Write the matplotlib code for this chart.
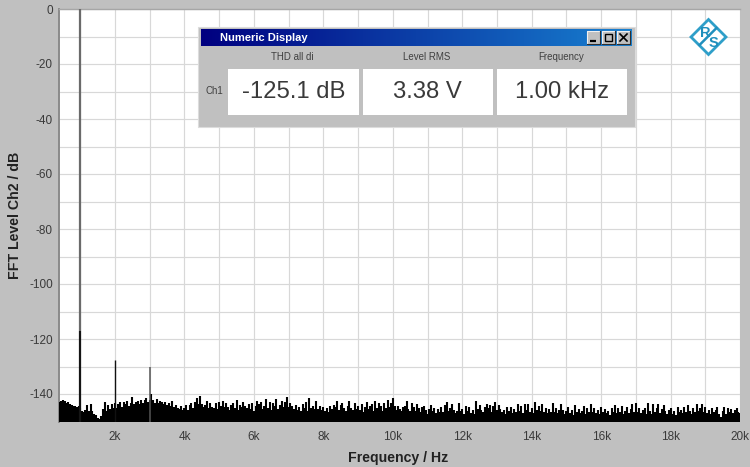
import numpy as np
import matplotlib
matplotlib.use("Agg")
import matplotlib.pyplot as plt
from matplotlib.patches import Rectangle, Polygon

plt.rcParams['font.family'] = ['Liberation Sans', 'DejaVu Sans']

# --- data -------------------------------------------------------------
x_ticks = [2000, 4000, 6000, 8000, 10000, 12000, 14000, 16000, 18000, 20000]
x_labels = ['2k', '4k', '6k', '8k', '10k', '12k', '14k', '16k', '18k', '20k']
y_ticks = [0, -20, -40, -60, -80, -100, -120, -140]
y_labels = ['0', '-20', '-40', '-60', '-80', '-100', '-120', '-140']

fundamental_hz = 990
fundamental_top = 0
fundamental_dark_top = -117
harmonic_hz = [2000, 3000]
harmonic_db = [-127.5, -130]

noise_start_hz = 400
noise_stop_hz = 20000
noise_db = [
 -143.0,-142.4,-142.0,-142.7,-143.2,-143.0,-143.7,-144.0,-144.4,-144.2,-144.8,-144.4,-145.2,-146.3,-146.6,-145.9,-144.0,-146.2,-143.8,-146.0,
 -147.2,-147.5,-148.9,-149.2,-147.9,-145.6,-143.0,-146.0,-144.0,-145.4,-143.5,-145.2,-143.3,-145.0,-143.8,-143.0,-144.7,-142.8,-143.8,-142.6,
 -144.2,-143.3,-141.0,-143.8,-143.0,-142.5,-143.8,-142.2,-143.4,-142.0,-141.4,-143.0,-142.2,-140.0,-142.0,-143.1,-141.8,-143.3,-142.6,-143.0,
 -143.7,-142.8,-144.0,-143.2,-144.3,-142.4,-144.8,-144.0,-145.2,-145.6,-144.5,-145.9,-145.0,-144.1,-145.7,-144.0,-143.2,-145.0,-142.8,-141.4,
 -143.8,-140.6,-143.5,-144.8,-144.0,-142.4,-145.1,-143.4,-144.6,-145.2,-143.2,-145.5,-143.0,-144.3,-142.6,-144.9,-143.4,-144.7,-145.8,-144.0,
 -143.3,-145.0,-142.2,-145.8,-144.0,-144.7,-143.0,-144.4,-145.0,-143.6,-145.4,-143.2,-146.0,-144.3,-142.7,-143.8,-143.0,-145.3,-144.2,-141.7,
 -145.2,-143.0,-145.8,-143.3,-144.2,-141.8,-145.4,-144.0,-142.6,-144.7,-143.0,-141.1,-144.8,-143.4,-144.5,-145.4,-144.0,-145.8,-144.9,-146.0,
 -143.8,-145.1,-143.0,-146.3,-141.4,-145.1,-144.2,-145.5,-142.7,-145.3,-144.4,-145.8,-144.8,-146.1,-145.0,-146.6,-144.3,-145.4,-144.0,-144.8,
 -142.6,-145.7,-144.1,-143.2,-145.2,-146.1,-144.5,-142.4,-145.0,-145.8,-143.3,-145.4,-144.2,-145.9,-143.6,-146.7,-144.7,-142.8,-145.5,-144.2,
 -143.7,-146.3,-142.7,-145.0,-143.2,-144.5,-146.0,-143.3,-145.1,-142.0,-144.8,-143.4,-141.6,-144.5,-145.8,-144.3,-145.4,-146.2,-144.9,-144.4,
 -142.4,-145.3,-146.0,-143.3,-144.8,-146.1,-143.7,-145.2,-146.5,-144.8,-144.4,-145.8,-147.1,-145.6,-144.0,-146.3,-145.1,-146.8,-145.4,-146.4,
 -144.9,-146.7,-144.0,-142.8,-146.2,-145.1,-143.8,-145.8,-147.0,-146.0,-143.4,-146.2,-145.3,-147.3,-144.2,-146.0,-144.9,-146.8,-145.8,-147.1,
 -142.4,-145.6,-144.1,-145.7,-146.5,-144.7,-143.8,-145.2,-144.0,-146.4,-144.5,-143.0,-145.8,-143.9,-145.3,-146.6,-145.8,-147.1,-144.9,-146.3,
 -144.6,-146.8,-145.4,-146.7,-143.5,-146.1,-144.3,-147.0,-143.8,-145.7,-143.6,-146.5,-145.2,-146.8,-143.0,-145.8,-144.4,-146.0,-143.8,-146.6,
 -145.0,-146.9,-145.4,-146.7,-143.3,-146.4,-145.0,-147.0,-145.9,-143.6,-145.7,-147.1,-146.2,-144.8,-146.8,-145.8,-147.8,-144.0,-146.5,-145.3,
 -146.8,-146.0,-144.4,-147.1,-145.2,-146.6,-143.7,-146.5,-145.1,-147.0,-145.8,-147.3,-144.6,-146.7,-145.5,-146.9,-146.0,-147.6,-145.1,-146.4,
 -144.0,-146.8,-145.2,-146.6,-144.4,-147.2,-146.0,-144.7,-146.8,-145.4,-143.8,-146.6,-143.2,-146.4,-145.1,-146.9,-145.8,-145.0,-147.2,-143.4,
 -146.1,-147.3,-143.8,-146.4,-145.2,-143.7,-146.8,-145.6,-144.1,-146.0,-147.2,-145.8,-145.1,-147.1,-146.0,-147.8,-144.9,-146.7,-145.8,-147.0,
 -144.8,-146.6,-143.9,-146.1,-147.4,-145.0,-146.5,-143.8,-146.3,-145.1,-143.7,-146.6,-144.8,-146.8,-145.9,-147.3,-145.2,-146.7,-145.8,-144.8,
 -147.1,-148.3,-146.0,-144.8,-147.4,-145.0,-146.7,-145.3,-147.0,-145.8,-145.0,-146.4,-146.8,
]

title_text = 'Numeric Display'
channel_text = 'Ch1'
meas_names = ['THD all di', 'Level RMS', 'Frequency']
meas_values = ['-125.1 dB', '3.38 V', '1.00 kHz']

# --- figure -----------------------------------------------------------
W, H = 750, 467
BG = '#c0c0c0'
TXT = '#3a3a3a'
GRID = '#d8d8d8'
fig = plt.figure(figsize=(W / 100, H / 100), dpi=100, facecolor=BG)
ax = fig.add_axes([59 / W, 1 - 421.5 / H, (740 - 59) / W, (421.5 - 9) / H], facecolor='white')
ax.set_xlim(387, 20000)
ax.set_ylim(-150, 0)

ax.set_axisbelow(True)
ax.set_xticks(x_ticks, x_labels)
ax.set_xticks(np.arange(1000, 20001, 2000), minor=True)
ax.set_yticks(y_ticks, y_labels)
ax.set_yticks(np.arange(-130, 0, 20), minor=True)
ax.grid(True, which='both', color=GRID, lw=0.85, zorder=0)
ax.tick_params(which='both', length=0)
ax.tick_params(axis='x', labelsize=8.5, labelcolor=TXT, pad=7)
ax.tick_params(axis='y', labelsize=8.5, labelcolor=TXT, pad=4.5)
for s in ax.spines.values():
    s.set_visible(False)
ax.spines['left'].set_visible(True)
ax.spines['left'].set_color('#8a8a8a')
ax.spines['left'].set_linewidth(1.4)
ax.spines['top'].set_visible(True)
ax.spines['top'].set_color('#a6a6a6')
ax.spines['top'].set_linewidth(1.0)

ax.set_xlabel('Frequency / Hz', fontsize=10.2, fontweight='bold', color='#222222')
ax.xaxis.set_label_coords((398 - 59) / (740 - 59), -(458 - 421.5) / (421.5 - 9), transform=ax.transAxes)
ax.xaxis.label.set_verticalalignment('center')
ax.set_ylabel('FFT Level Ch2 / dB', fontsize=10.2, fontweight='bold', color='#222222')
ax.yaxis.set_label_coords(-(59 - 15) / (740 - 59), (421.5 - 215) / (421.5 - 9), transform=ax.transAxes)
ax.yaxis.label.set_verticalalignment('center')

noise_hz = np.linspace(noise_start_hz, noise_stop_hz, len(noise_db))
ax.vlines(noise_hz, -150, noise_db, color='black', lw=1.5, zorder=3)
ax.vlines(fundamental_hz, fundamental_dark_top, fundamental_top, color='#6a6a6a', lw=1.6, zorder=3)
ax.vlines(fundamental_hz, -150, fundamental_dark_top, color='#151515', lw=1.6, zorder=3)
ax.vlines(harmonic_hz[0], -150, harmonic_db[0], color='#111111', lw=1.0, zorder=3)
ax.vlines(harmonic_hz[1], -150, harmonic_db[1], color='#555555', lw=1.1, zorder=3)

# --- overlay in pixel coordinates for the numeric display and logo ------
ov = fig.add_axes([0, 0, 1, 1], facecolor='none')
ov.set_zorder(5)
ov.axis('off')

ov.add_patch(Rectangle((198, 27), 437, 100, fc=BG, ec='#dcdcdc', lw=0.8))
grad = np.linspace(0, 1, 256)[None, :, None]
c0 = np.array([0, 0, 128]) / 255
c1 = np.array([24, 128, 208]) / 255
ov.imshow(c0 + grad * (c1 - c0), extent=(201, 632, 46, 29), aspect='auto', zorder=2, interpolation='bilinear')
ov.set_xlim(0, W)
ov.set_ylim(H, 0)
ov.text(220, 38, title_text, color='white', fontsize=8, fontweight='bold', va='center', ha='left', zorder=3)

# window buttons with a raised look
for bx in (587, 602, 617):
    ov.add_patch(Rectangle((bx, 31), 13, 13, fc=BG, ec='none', zorder=3))
    ov.plot([bx, bx, bx + 13], [44, 31, 31], color='#f0f0f0', lw=0.8, zorder=4)
    ov.plot([bx, bx + 13, bx + 13], [44, 44, 31], color='#303030', lw=0.8, zorder=4)
ov.plot([590, 596], [41, 41], color='black', lw=1.6, zorder=4, solid_capstyle='butt')
ov.add_patch(Rectangle((605, 34), 7, 7, fc='none', ec='black', lw=1.0, zorder=4))
ov.plot([620, 627], [34, 41], color='black', lw=1.2, zorder=4)
ov.plot([620, 627], [41, 34], color='black', lw=1.2, zorder=4)

box_l = [228, 362.5, 497]
box_r = [359, 493, 627]
for l, r, name, val in zip(box_l, box_r, meas_names, meas_values):
    ov.add_patch(Rectangle((l, 69), r - l, 46, fc='white', ec='none', zorder=2))
    ov.text((l + r) / 2 - 1, 57.5, name, fontsize=7, color='#404040', ha='center', va='center', zorder=3)
    ov.text((l + r) / 2, 92.5, val, fontsize=17.2, color='#3a3a3a', ha='center', va='center', zorder=3)
ov.text(214.5, 91.5, channel_text, fontsize=7, color='#404040', ha='center', va='center', zorder=3)

# logo
LOGO = '#2f9fc9'
DARK = '#1f8fbd'
cx, cy, rr = 708.5, 37, 17.5
ov.add_patch(Polygon([(cx, cy - rr), (cx + rr, cy), (cx, cy + rr), (cx - rr, cy)], closed=True,
                     fc='white', ec=LOGO, lw=2.0, zorder=3))
ov.plot([cx - 9, cx + 8], [cy + 8, cy - 9], color=DARK, lw=1.8, zorder=4)
ov.text(cx - 3, cy - 4, 'R', color=DARK, fontsize=10.5, fontweight='bold', ha='center', va='center', zorder=4)
ov.text(cx + 5, cy + 6, 'S', color=DARK, fontsize=10.5, fontweight='bold', ha='center', va='center', zorder=4)

fig.savefig('out.png', dpi=100, facecolor=BG)
